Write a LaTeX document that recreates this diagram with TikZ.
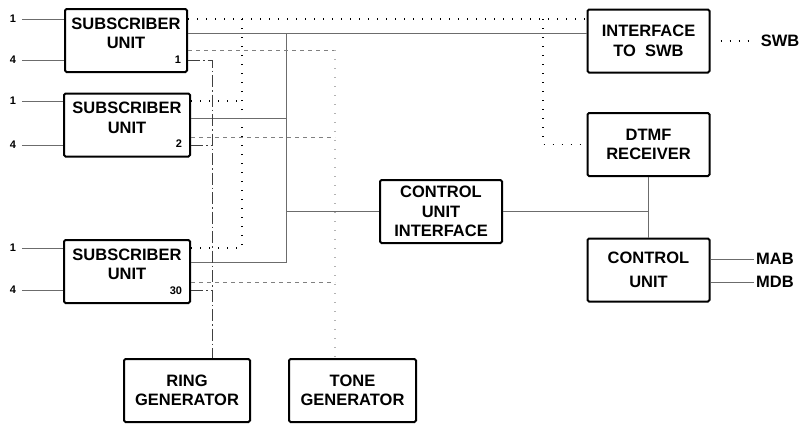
\documentclass[tikz,border=0pt]{standalone}
\usepackage{fontspec}
\setmainfont{Liberation Sans}
\begin{document}
\begin{tikzpicture}[x=1pt, y=-1pt, font=\fontsize{16.5}{19.5}\selectfont\bfseries,
  block/.style={draw, line width=2pt, rounded corners=1.5pt, minimum width=122pt, minimum height=63pt, align=center, inner sep=0pt},
  subunit/.style={block, minimum width=126pt, text width=116pt},
  pin/.style={font=\fontsize{11}{13}\selectfont\bfseries, inner ysep=1pt, inner xsep=5.5pt},
  tag/.style={font=\fontsize{16.5}{19}\selectfont\bfseries, inner sep=2pt},
  wire/.style={gray!85!black, line width=0.8pt},
  ctl/.style={line width=1.2pt, dash pattern=on 1.2pt off 7.8pt},
  tonel/.style={gray, line width=0.8pt, dash pattern=on 4pt off 4pt},
  tonebus/.style={gray!60, line width=1.2pt, dash pattern=on 1.2pt off 7.8pt},
  ringl/.style={gray!50!black, line width=0.8pt, dash pattern=on 12pt off 3pt on 1.5pt off 3pt}]
\useasboundingbox (0,0) rectangle (802,424);
\node[subunit, minimum width=122pt] (su1) at (126,40.5) {SUBSCRIBER\\UNIT\\[-5pt]\makebox[\linewidth][r]{\fontsize{11}{13}\selectfont\bfseries 1\hspace*{3pt}}};
\node[subunit] (su2) at (127,125) {SUBSCRIBER\\UNIT\\[-5pt]\makebox[\linewidth][r]{\fontsize{11}{13}\selectfont\bfseries 2\hspace*{3pt}}};
\node[subunit] (su3) at (127,271.5) {SUBSCRIBER\\UNIT\\[-5pt]\makebox[\linewidth][r]{\fontsize{11}{13}\selectfont\bfseries 30\hspace*{3pt}}};
\node[block, minimum width=126pt] (ring) at (187,390.5) {RING\\GENERATOR};
\node[block, minimum width=127pt] (tone) at (352.5,390.5) {TONE\\GENERATOR};
\node[block] (cui) at (441,211.5) {CONTROL\\UNIT\\INTERFACE};
\node[block] (iswb) at (648.5,41) {INTERFACE\\TO\ \ SWB};
\node[block] (dtmf) at (648.5,144.5) {DTMF\\RECEIVER};
\node[block] (cu) at (648.5,270) {CONTROL\\[5pt]UNIT};
\node[pin] (p1a) at (13,19) {1};
\node[pin] (p1b) at (13,60) {4};
\node[pin] (p2a) at (13,101) {1};
\node[pin] (p2b) at (13,145) {4};
\node[pin] (p3a) at (13,248) {1};
\node[pin] (p3b) at (13,290) {4};
\node[tag] (swb) at (780,41) {SWB};
\node[tag] (mab) at (775,259) {MAB};
\node[tag] (mdb) at (775,282) {MDB};
\coordinate (ctop) at (242,19);
\coordinate (dtop) at (543,19);
\coordinate (stop) at (286,33);
\coordinate (s2) at (286,118);
\coordinate (sbot) at (286,262);
\coordinate (ttop) at (335,50);
\coordinate (t2) at (335,137);
\coordinate (t3) at (335,282);
\coordinate (rbus) at (212,60);
\foreach \p/\s in {p1a/su1, p1b/su1, p2a/su2, p2b/su2, p3a/su3, p3b/su3}
  \draw[wire] (\p.east) -- (\p -| \s.west);
\draw[ctl] (su1.east |- p1a) -- (iswb.west |- p1a);
\draw[ctl] (su2.east |- p2a) -- (ctop |- p2a);
\draw[ctl] (su3.east |- p3a) -| (ctop);
\draw[ctl] (dtop) |- (dtmf.west);
\draw[ctl, shorten <=10pt, shorten >=10pt] (iswb.east) -- (swb.west);
\draw[wire] (su1.east |- stop) -- (iswb.west |- stop);
\draw[wire] (su2.east |- s2) -- (s2);
\draw[wire] (su3.east |- sbot) -| (stop);
\draw[wire] (cui.west) -- (cui.west -| stop);
\draw[wire] (cui.east) -- (cui.east -| dtmf.south);
\draw[wire] (dtmf.south) -- (cu.north);
\draw[wire] (cu.east |- mab) -- (mab.west);
\draw[wire] (cu.east |- mdb) -- (mdb.west);
\draw[tonel] (su1.east |- ttop) -- (ttop);
\draw[tonel] (su2.east |- t2) -- (t2);
\draw[tonel] (su3.east |- t3) -- (t3);
\draw[tonebus] (ttop) -- (ttop |- tone.north);
\draw[ringl] (su1.east |- rbus) -| (ring.north -| rbus);
\draw[ringl] (su2.east |- p2b) -- (rbus |- p2b);
\draw[ringl] (su3.east |- p3b) -- (rbus |- p3b);
\end{tikzpicture}
\end{document}
